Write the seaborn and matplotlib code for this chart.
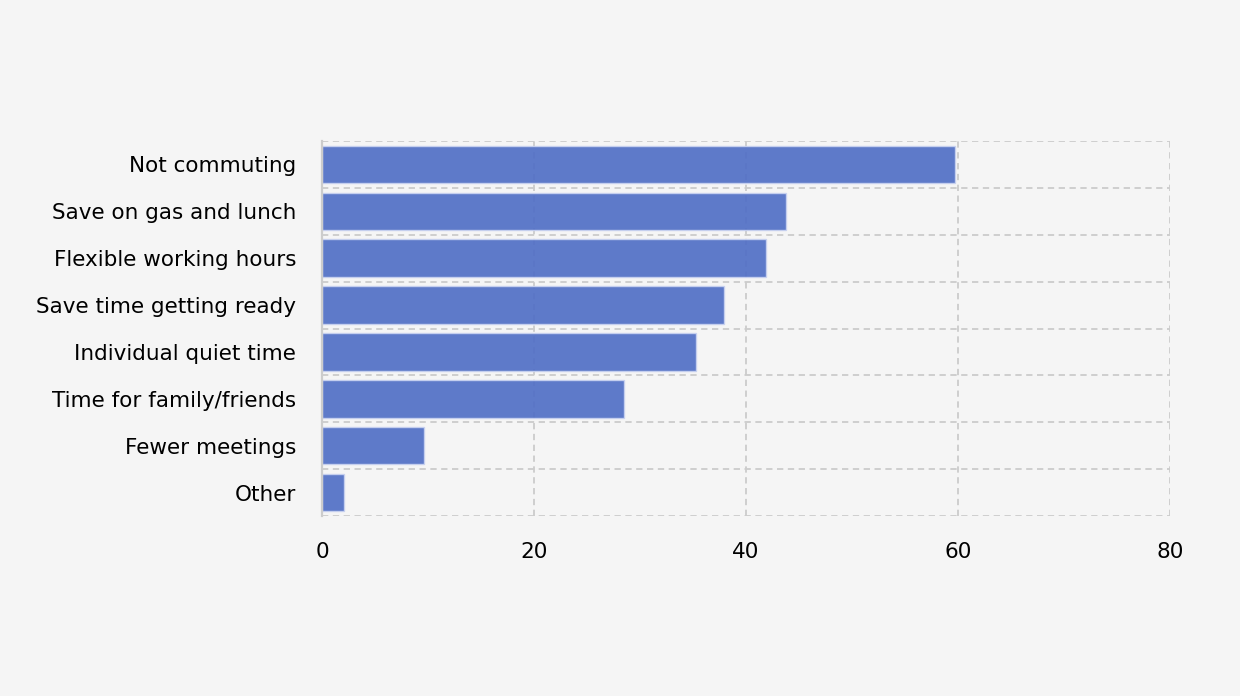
import matplotlib
matplotlib.use("Agg")
import matplotlib.pyplot as plt
import numpy as np
import pandas as pd
import seaborn as sns

categories = [
    "Not commuting",
    "Save on gas and lunch",
    "Flexible working hours",
    "Save time getting ready",
    "Individual quiet time",
    "Time for family/friends",
    "Fewer meetings",
    "Other",
]
values = [59.7, 43.8, 41.9, 37.9, 35.3, 28.5, 9.6, 2.1]
x_ticks = [0, 20, 40, 60, 80]

bg = "#f5f5f5"
bar_color = "#4e6dc5"
grid_color = "#cccccc"

sns.set_style("white")
plt.rcParams["font.family"] = ["DejaVu Sans"]
plt.rcParams["font.size"] = 15.5

df = pd.DataFrame({"reason": categories, "pct": values})

fig = plt.figure(figsize=(12.4, 6.96), dpi=100, facecolor=bg)
ax = fig.add_axes([0.2597, 0.2586, 0.6838, 0.5388])
ax.set_facecolor(bg)

sns.barplot(data=df, x="pct", y="reason", orient="h", color=bar_color,
            saturation=1, width=0.8, alpha=0.9, edgecolor="#c9d2f0",
            linewidth=1.0, ax=ax, zorder=2)

ax.set_xlim(0, 80)
ax.set_ylim(len(categories) - 0.5, -0.5)
ax.set_xticks(x_ticks)
ax.set_xticklabels([str(t) for t in x_ticks])
ax.set_yticks(np.arange(len(categories)) + 0.5, minor=True)
ax.set_xlabel("")
ax.set_ylabel("")

ax.grid(False)
dash = dict(color=grid_color, linestyle=(0, (3.5, 2.5)), linewidth=1.3, zorder=0)
for t in x_ticks[1:]:
    ax.axvline(t, **dash)
for b in np.arange(-0.5, len(categories), 1.0):
    ax.axhline(b, **dash)

for name, spine in ax.spines.items():
    spine.set_visible(name == "left")
ax.spines["left"].set_color(grid_color)
ax.spines["left"].set_linewidth(1.6)
ax.spines["left"].set_zorder(3)

ax.tick_params(axis="x", length=0, pad=19, labelsize=15.5, colors="black")
ax.tick_params(axis="y", which="major", length=4.5, width=1.1, color=grid_color,
               pad=14, labelsize=15.5, labelcolor="black")
ax.tick_params(axis="y", which="minor", length=0)

fig.savefig("out.png", dpi=100, facecolor=bg)
